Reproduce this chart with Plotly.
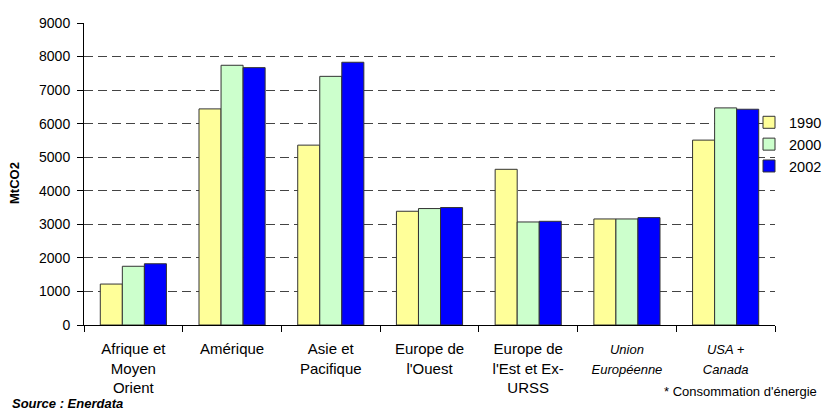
import plotly.graph_objects as go

categories = ["Afrique et<br>Moyen<br>Orient", "Amérique", "Asie et<br>Pacifique",
              "Europe de<br>l'Ouest", "Europe de<br>l'Est et Ex-<br>URSS",
              "<i><span style='font-size:13px'>Union<br>Européenne</span></i>",
              "<i><span style='font-size:13px'>USA +<br>Canada</span></i>"]
years = ["1990", "2000", "2002"]
v1990 = [1220, 6440, 5360, 3390, 4640, 3160, 5510]
v2000 = [1750, 7740, 7410, 3470, 3070, 3160, 6470]
v2002 = [1825, 7670, 7830, 3500, 3090, 3200, 6430]
colors = ["#FFFF99", "#CCFFCC", "#0000FF"]
y_ticks = list(range(0, 9001, 1000))

W, H = 823, 408
L, R, T, B = 84, 775, 22.7, 325.3
pw, ph = R - L, B - T


def px(x):
    return (x - L) / pw


def py(y):
    return (B - y) / ph


fig = go.Figure()
for name, vals, col in zip(years, [v1990, v2000, v2002], colors):
    fig.add_trace(go.Bar(name=name, x=categories, y=vals,
                         marker=dict(color=col, line=dict(color="#333333", width=1))))

fig.update_layout(
    width=W, height=H,
    margin=dict(l=L, r=W - R, t=T, b=H - B, autoexpand=False),
    paper_bgcolor="white", plot_bgcolor="white",
    barmode="group", bargap=0.33, bargroupgap=0,
    font=dict(family="Liberation Sans, Arial, sans-serif", color="black"),
    showlegend=True,
    legend=dict(x=px(749), y=py(144.3), xanchor="left", yanchor="middle",
                font=dict(size=14.5), bgcolor="rgba(0,0,0,0)",
                itemwidth=30, tracegroupgap=0),
    xaxis=dict(showline=True, linecolor="black", linewidth=1,
               ticks="outside", tickson="boundaries", ticklen=6, tickcolor="black",
               tickfont=dict(size=15), showgrid=False, ticklabelstandoff=10),
    yaxis=dict(range=[0, 9000], tickvals=y_ticks, showline=True, linecolor="black",
               linewidth=1, ticks="outside", ticklen=6, tickcolor="black",
               tickfont=dict(size=14), showgrid=True, gridcolor="#444444",
               griddash="9px,5px", gridwidth=1, zeroline=False, ticklabelstandoff=4),
    annotations=[
        dict(text="<b>MtCO2</b>", x=px(15), y=py(183), xref="paper", yref="paper",
             xanchor="center", yanchor="middle",
             showarrow=False, textangle=-90, font=dict(size=13)),
        dict(text="<b><i>Source : Enerdata</i></b>", x=px(10), y=py(394), xref="paper",
             yref="paper", xanchor="left", yanchor="top", showarrow=False,
             font=dict(size=13)),
        dict(text="* Consommation d'énergie", x=px(819), y=py(392), xref="paper",
             yref="paper", xanchor="right", yanchor="middle", showarrow=False,
             font=dict(size=13)),
    ],
)

fig.write_html("out.html", config={"displayModeBar": False},
               post_script="document.body.style.margin='0';document.body.style.overflow='hidden';")
